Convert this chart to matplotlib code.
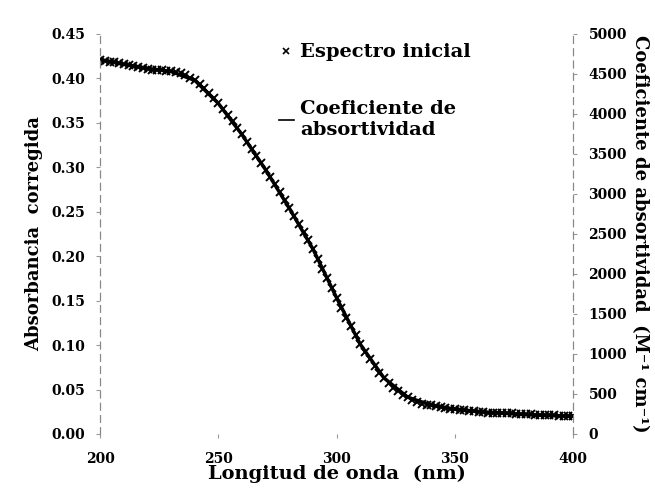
import numpy as np
import matplotlib
matplotlib.use('Agg')
import matplotlib.pyplot as plt
from matplotlib.lines import Line2D

# spectrum (every 2 nm)
wl = np.arange(200, 401, 2)
absorb = [0.421, 0.420, 0.419, 0.418, 0.417, 0.416, 0.415, 0.414, 0.413, 0.412,
          0.411, 0.410, 0.409, 0.409, 0.408, 0.408, 0.407, 0.406, 0.404, 0.401,
          0.398, 0.394, 0.389, 0.384, 0.378, 0.372, 0.366, 0.359, 0.352, 0.344,
          0.337, 0.329, 0.321, 0.313, 0.305, 0.297, 0.289, 0.281, 0.272, 0.263,
          0.254, 0.245, 0.236, 0.227, 0.218, 0.208, 0.197, 0.186, 0.175, 0.164,
          0.153, 0.142, 0.131, 0.121, 0.111, 0.101, 0.092, 0.084, 0.076, 0.069,
          0.063, 0.057, 0.052, 0.048, 0.044, 0.041, 0.038, 0.036, 0.034, 0.033,
          0.032, 0.031, 0.030, 0.029, 0.028, 0.028, 0.027, 0.027, 0.026, 0.026,
          0.025, 0.025, 0.024, 0.024, 0.024, 0.023, 0.023, 0.023, 0.022, 0.022,
          0.022, 0.022, 0.021, 0.021, 0.021, 0.021, 0.021, 0.020, 0.020, 0.020,
          0.020]

# absorptivity coefficient (every 10 nm)
wl_coef = [200, 210, 220, 230, 240, 250, 260, 270, 280, 290, 300,
           310, 320, 330, 340, 350, 360, 370, 380, 390, 400]
coef = [4680, 4620, 4570, 4530, 4420, 4130, 3740, 3300, 2820, 2310, 1700,
        1120, 700, 460, 360, 310, 280, 260, 240, 230, 220]

plt.rcParams['font.family'] = 'DejaVu Serif'
plt.rcParams['font.weight'] = 'bold'

fig = plt.figure(figsize=(6.55, 4.92), dpi=100)
ax = fig.add_axes([0.153, 0.118, 0.722, 0.813])
ax2 = ax.twinx()

ax2.plot(wl_coef, coef, '-', color='black', lw=2.5)
ax.plot(wl, absorb, 'x', color='black', ms=6, mew=1.4)
ax.set_zorder(ax2.get_zorder() + 1)
ax.patch.set_visible(False)

ax.set_xlim(200, 400)
ax.set_ylim(0, 0.45)
ax2.set_ylim(0, 5000)
ax.set_xticks([200, 250, 300, 350, 400])
ax.set_yticks(np.arange(0, 0.451, 0.05))
ax.set_yticklabels(['%.2f' % v for v in np.arange(0, 0.451, 0.05)])
ax2.set_yticks(range(0, 5001, 500))

for a in (ax, ax2):
    a.spines['top'].set_visible(False)
    a.spines['bottom'].set_visible(False)
    for s in ('left', 'right'):
        a.spines[s].set_color('#888888')
        a.spines[s].set_linewidth(0.8)
        a.spines[s].set_linestyle((0, (6, 5)))
    a.tick_params(labelsize=10, length=3, color='#999999', width=0.8, pad=8)
ax.tick_params(axis='x', pad=10)

ax.set_xlabel('Longitud de onda  (nm)', fontsize=14, fontweight='bold', labelpad=-1)
ax.set_ylabel('Absorbancia  corregida', fontsize=13, fontweight='bold', labelpad=6)
ax2.set_ylabel('Coeficiente de absortividad  (M\u207b\u00b9 cm\u207b\u00b9)', fontsize=13,
               fontweight='bold', rotation=270, labelpad=16)

handles = [Line2D([], [], ls='none', marker='x', color='black', ms=5, mew=1.2),
           Line2D([], [], ls='-', color='black', lw=1.2)]
ax.legend(handles, ['Espectro inicial', 'Coeficiente de\nabsortividad'],
          loc='upper left', bbox_to_anchor=(0.34, 1.02), frameon=False,
          handlelength=0.8, handletextpad=0.3, labelspacing=2.0,
          prop={'weight': 'bold', 'size': 14})

fig.savefig('out.png', dpi=100)
